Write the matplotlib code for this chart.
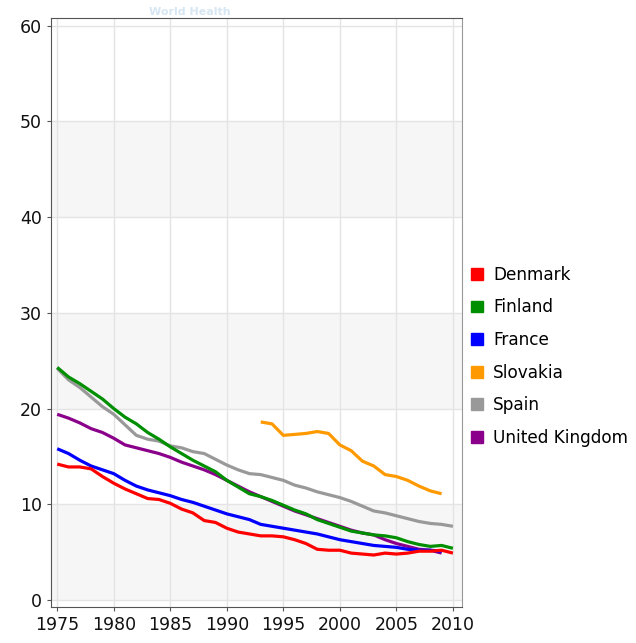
import numpy as np
import matplotlib.pyplot as plt
from matplotlib.patches import Patch

years = np.arange(1975, 2011)

denmark = [14.2, 13.9, 13.9, 13.7, 12.9, 12.2, 11.6, 11.1, 10.6, 10.5,
           10.1, 9.5, 9.1, 8.3, 8.1, 7.5, 7.1, 6.9, 6.7, 6.7,
           6.6, 6.3, 5.9, 5.3, 5.2, 5.2, 4.9, 4.8, 4.7, 4.9,
           4.8, 4.9, 5.1, 5.1, 5.2, 4.9]
finland = [24.3, 23.3, 22.6, 21.8, 21.0, 20.0, 19.1, 18.4, 17.5, 16.8,
           16.0, 15.3, 14.6, 14.0, 13.4, 12.5, 11.8, 11.1, 10.8, 10.4,
           9.9, 9.4, 9.0, 8.4, 8.0, 7.6, 7.2, 7.0, 6.8, 6.7,
           6.5, 6.1, 5.8, 5.6, 5.7, 5.4]
france = [15.8, 15.3, 14.6, 14.0, 13.6, 13.2, 12.5, 11.9, 11.5, 11.2,
          10.9, 10.5, 10.2, 9.8, 9.4, 9.0, 8.7, 8.4, 7.9, 7.7,
          7.5, 7.3, 7.1, 6.9, 6.6, 6.3, 6.1, 5.9, 5.7, 5.6,
          5.5, 5.3, 5.2, 5.2, 5.1]
slovakia_years = np.arange(1993, 2010)
slovakia = [18.6, 18.4, 17.2, 17.3, 17.4, 17.6, 17.4, 16.2, 15.6, 14.5,
            14.0, 13.1, 12.9, 12.5, 11.9, 11.4, 11.1]
spain = [24.2, 23.0, 22.2, 21.2, 20.2, 19.4, 18.3, 17.2, 16.8, 16.6,
         16.1, 15.9, 15.5, 15.3, 14.7, 14.1, 13.6, 13.2, 13.1, 12.8,
         12.5, 12.0, 11.7, 11.3, 11.0, 10.7, 10.3, 9.8, 9.3, 9.1,
         8.8, 8.5, 8.2, 8.0, 7.9, 7.7]
uk = [19.4, 19.0, 18.5, 17.9, 17.5, 16.9, 16.2, 15.9, 15.6, 15.3,
      14.9, 14.4, 14.0, 13.6, 13.1, 12.5, 11.9, 11.3, 10.8, 10.3,
      9.8, 9.3, 8.9, 8.5, 8.1, 7.7, 7.3, 7.0, 6.8, 6.3,
      5.9, 5.6, 5.3, 5.2, 4.9]

labels = ["Denmark", "Finland", "France", "Slovakia", "Spain", "United Kingdom"]
colors = ["#ff0000", "#008f00", "#0000ff", "#ff9900", "#999999", "#8b008b"]

fig = plt.figure(figsize=(6.36, 6.43), dpi=100)
ax = fig.add_axes([0.080, 0.056, 0.646, 0.916])

# alternating background bands
for lo in range(0, 60, 20):
    ax.axhspan(lo, lo + 10, color="#f6f6f6", zorder=0, lw=0)
ax.set_axisbelow(True)
ax.grid(True, color="#e4e4e4", linewidth=1.0)

series = [
    (years, denmark),
    (years, finland),
    (years[:len(france)], france),
    (slovakia_years, slovakia),
    (years, spain),
    (years[:len(uk)], uk),
]
order = [4, 3, 5, 1, 2, 0]
for i in order:
    x, y = series[i]
    ax.plot(x, y, color=colors[i], linewidth=2.3, solid_capstyle="butt", zorder=3)

ax.set_xlim(1974.44, 2010.78)
ax.set_ylim(-0.73, 60.8)
ax.set_xticks(np.arange(1975, 2011, 5))
ax.set_yticks(np.arange(0, 61, 10))
ax.tick_params(labelsize=12.5, length=3, color="#555555", labelcolor="#111111")
for side in ["left", "top", "bottom", "right"]:
    ax.spines[side].set_color("#555555")
ax.spines["right"].set_color("#999999")

handles = [Patch(facecolor=c, edgecolor=c) for c in colors]
fig.legend(handles, labels, loc="upper left", bbox_to_anchor=(0.730, 0.597),
           frameon=False, fontsize=12.2, handlelength=0.7, handleheight=0.7,
           handletextpad=0.6, labelspacing=0.86, borderaxespad=0)

fig.text(0.235, 0.982, "World Health", color="#d6e6f2", fontsize=8,
         fontweight="bold", va="center", zorder=-1)

fig.savefig("out.png", dpi=100)
